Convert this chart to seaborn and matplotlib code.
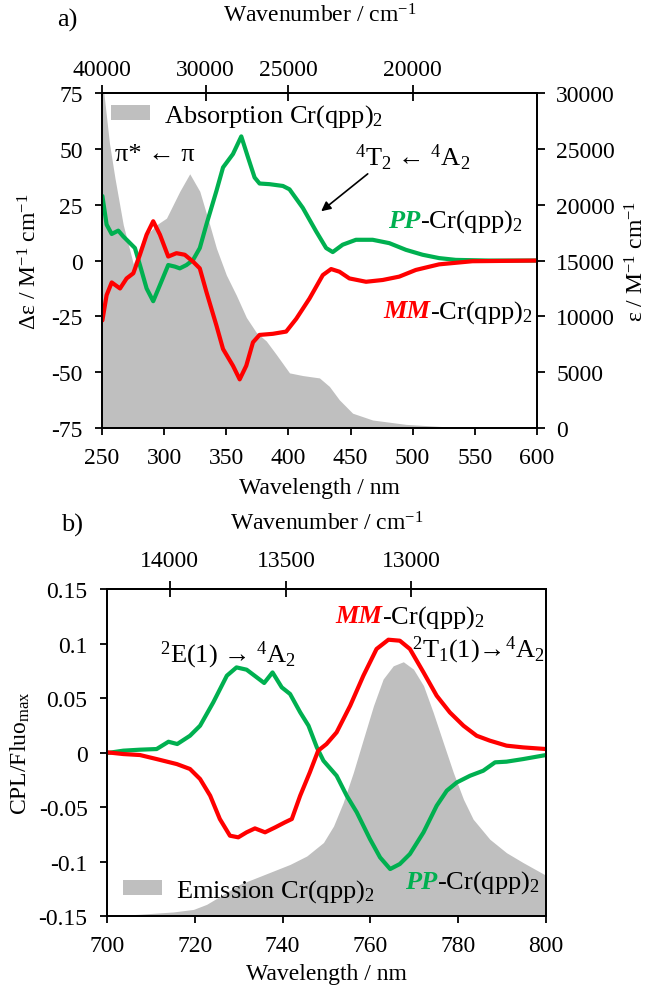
import numpy as np
import matplotlib
matplotlib.use("Agg")
import matplotlib.pyplot as plt
import seaborn as sns
from matplotlib.patches import Patch
from matplotlib.ticker import FuncFormatter
from matplotlib.offsetbox import TextArea, HPacker, AnnotationBbox

# ---- panel a: absorption / CD ----
abs_nm = [250, 252.5, 256, 260.4, 267.1, 275.2, 283.2, 293.9, 301.9, 312.6, 320.6,
          328.7, 336.7, 342.1, 350.1, 358.1, 366.2, 374.2, 382.2, 390.2, 400.9,
          411.6, 425, 433, 441, 451.7, 467.8, 494.6, 534.7, 600]
abs_eps = [31500, 29000, 25500, 22400, 18200, 14700, 17000, 18200, 18800, 21200, 22770,
           21200, 18200, 16100, 13700, 11900, 9900, 8560, 7800, 6600, 4940,
           4700, 4490, 3730, 2530, 1330, 720, 330, 60, 0]

pp_cd_nm = [250.3, 253.7, 257.8, 263.1, 267.1, 271.1, 276.5, 280.5, 285.9, 291.2, 296.6,
            303.3, 308.6, 312.6, 318.0, 323.3, 328.7, 334.0, 342.1, 347.4, 355.4, 362.1,
            367.5, 372.8, 376.8, 384.9, 395.6, 400.9, 411.6, 422.3, 430.4, 435.7, 443.7,
            454.4, 467.8, 481.2, 494.6, 508.0, 521.3, 534.7, 561.5, 600]
pp_cd = [28.9, 16.1, 11.9, 13.4, 10.8, 8.6, 5.6, -2.0, -12.5, -18.2, -11.0,
         -2.0, -2.7, -3.5, -2.0, 0.3, 5.6, 16.1, 31.2, 41.7, 47.7, 55.6,
         46.2, 37.2, 34.5, 34.2, 33.4, 31.9, 23.6, 13.1, 5.6, 3.8, 7.1,
         9.3, 9.3, 7.8, 4.8, 2.6, 1.1, 0.3, 0.0, 0.0]

mm_cd_nm = [250.3, 253.7, 257.8, 264.5, 269.8, 275.2, 280.5, 285.9, 291.2, 296.6, 303.3,
            309.9, 316.6, 323.3, 328.7, 334.0, 342.1, 347.4, 355.4, 360.8, 366.1, 371.5,
            376.8, 387.5, 398.2, 406.3, 417.0, 427.7, 434.4, 441.1, 449.1, 462.5, 475.9,
            489.2, 502.6, 521.3, 548.1, 600]
mm_cd = [-26.8, -15.5, -9.8, -12.5, -8.0, -5.7, 2.6, 11.6, 17.6, 11.6, 1.8,
         3.3, 2.6, -0.5, -3.5, -14.0, -29.1, -39.6, -47.1, -53.2, -47.1, -36.6,
         -33.3, -32.8, -31.8, -26.1, -17.0, -6.5, -3.8, -5.0, -8.0, -9.5, -8.7,
         -7.2, -4.2, -1.7, -0.3, 0.0]

# ---- panel b: emission / CPL ----
em_nm = [700, 707.5, 715.1, 719.7, 722.7, 726.5, 730.3, 734.1, 737.9, 741.7, 745.5,
         749.3, 751.6, 753.8, 756.1, 758.4, 760.7, 762.9, 765.2, 767.5, 769.8, 772.1,
         774.3, 776.6, 778.9, 781.2, 783.4, 787.2, 791.0, 794.8, 800]
em_int = [0, 0.007, 0.016, 0.026, 0.046, 0.085, 0.125, 0.151, 0.177, 0.203, 0.236,
          0.289, 0.354, 0.446, 0.564, 0.696, 0.827, 0.932, 0.984, 1.0, 0.971, 0.906,
          0.801, 0.682, 0.564, 0.459, 0.381, 0.302, 0.249, 0.21, 0.16]

pp_cpl_nm = [700.0, 703.7, 707.5, 711.3, 714.0, 716.0, 718.9, 721.2, 724.2, 727.3, 729.5,
             731.8, 734.1, 735.8, 737.7, 739.8, 741.7, 744.0, 745.9, 747.8, 749.3, 752.3,
             754.6, 756.9, 759.9, 762.2, 764.5, 766.7, 769.0, 772.1, 775.1, 777.4, 779.7,
             782.7, 785.7, 788.4, 791.0, 794.8, 800.0]
pp_cpl = [-0.0005, 0.0017, 0.0026, 0.0032, 0.0099, 0.0078, 0.0154, 0.0246, 0.046, 0.0705, 0.0781,
          0.076, 0.069, 0.0638, 0.0735, 0.0598, 0.0537, 0.0369, 0.0246, 0.0047, -0.0075, -0.0213,
          -0.0396, -0.0549, -0.0794, -0.0962, -0.1069, -0.1023, -0.0931, -0.0732, -0.0488, -0.035, -0.0274,
          -0.0213, -0.0167, -0.009, -0.0084, -0.006, -0.0023]

mm_cpl_nm = [700, 703.7, 707.5, 711.3, 715.9, 718.9, 721.2, 723.5, 725.7, 728.0, 729.9,
             731.8, 733.7, 736.0, 738.3, 740.5, 742.1, 744.0, 746.2, 748.1, 750.0, 752.3,
             755.4, 758.4, 761.4, 764.1, 766.7, 769.0, 772.1, 775.1, 778.1, 781.2, 784.2,
             787.2, 791.0, 794.8, 800.0]
mm_cpl = [0.0002, -0.0014, -0.0023, -0.006, -0.0106, -0.0151, -0.0243, -0.0396, -0.061, -0.0763, -0.0778,
          -0.0732, -0.0696, -0.0732, -0.0687, -0.0641, -0.061, -0.0396, -0.0182, 0.0017, 0.0078, 0.0185,
          0.043, 0.0705, 0.095, 0.1035, 0.1026, 0.095, 0.0735, 0.0521, 0.0368, 0.0246, 0.0154,
          0.0109, 0.0063, 0.0047, 0.0032]

GREEN = "#00B050"
RED = "#FF0000"
GRAY = "#BFBFBF"

sns.set_theme(style="ticks")
plt.rcParams["font.family"] = ["Liberation Serif", "DejaVu Serif", "DejaVu Sans"]
plt.rcParams["mathtext.fontset"] = "custom"
plt.rcParams["mathtext.rm"] = "Liberation Serif"
plt.rcParams["mathtext.it"] = "Liberation Serif:italic"
plt.rcParams["mathtext.bf"] = "Liberation Serif:bold"
plt.rcParams["axes.unicode_minus"] = False
plt.rcParams["axes.edgecolor"] = "black"
plt.rcParams["axes.labelcolor"] = "black"
plt.rcParams["text.color"] = "black"
plt.rcParams["axes.linewidth"] = 1.3
plt.rcParams["xtick.color"] = "black"
plt.rcParams["ytick.color"] = "black"
plt.rcParams["xtick.labelcolor"] = "black"
plt.rcParams["ytick.labelcolor"] = "black"

FS = 17      # ticks and axis labels
FA = 19      # annotations and legends
fig = plt.figure(figsize=(6.51, 9.87), dpi=100)
ax1 = fig.add_axes([0.1567, 0.5653, 0.668, 0.3394])
ax2 = fig.add_axes([0.1644, 0.0709, 0.6743, 0.3313])

fmt = FuncFormatter(lambda v, p: "%g" % v)


def wn(x):
    x = np.asarray(x, dtype=float)
    with np.errstate(divide="ignore", invalid="ignore"):
        return 1e7 / x


def style_axes(ax):
    ax.tick_params(axis="both", labelsize=FS, width=1.3, length=5, direction="out",
                   top=False, right=False)
    ax.tick_params(axis="x", pad=9)
    ax.tick_params(axis="y", pad=9)
    ax.yaxis.set_major_formatter(fmt)
    for s in ax.spines.values():
        s.set_linewidth(1.3)
        s.set_color("black")


def label_pair(ax, x, y, bold, rest, color):
    t1 = TextArea(bold, textprops=dict(color=color, fontsize=FA, fontweight="bold",
                                       fontstyle="italic"))
    t2 = TextArea(rest, textprops=dict(color="black", fontsize=FA))
    box = HPacker(children=[t1, t2], align="baseline", pad=0, sep=0)
    ab = AnnotationBbox(box, (x, y), xycoords="axes fraction", box_alignment=(0, 0.5),
                        frameon=False, pad=0)
    ax.add_artist(ab)


# ---------- panel a ----------
ax1r = ax1.twinx()
ax1r.fill_between(abs_nm, 0, abs_eps, color=GRAY, lw=0)
ax1r.set_ylim(0, 30000)
ax1r.set_yticks(np.arange(0, 30001, 5000))
ax1r.tick_params(labelsize=FS, width=1.3, length=6, direction="out", pad=8)
ax1r.set_ylabel("ε / M$^{-1}$ cm$^{-1}$", fontsize=FS)
ax1r.yaxis.set_label_coords(1.203, 0.5)
ax1.set_zorder(ax1r.get_zorder() + 1)
ax1.patch.set_visible(False)

sns.lineplot(x=pp_cd_nm, y=pp_cd, ax=ax1, color=GREEN, lw=3, sort=False)
sns.lineplot(x=mm_cd_nm, y=mm_cd, ax=ax1, color=RED, lw=3, sort=False)
ax1.set_xlim(250, 600)
ax1.set_ylim(-75, 75)
ax1.set_xticks(np.arange(250, 601, 50))
ax1.set_yticks(np.arange(-75, 76, 25))
style_axes(ax1)
for s in ax1r.spines.values():
    s.set_linewidth(1.3)
ax1.set_xlabel("Wavelength / nm", fontsize=FS)
ax1.xaxis.set_label_coords(0.5, -0.146)
ax1.set_ylabel("Δε / M$^{-1}$ cm$^{-1}$", fontsize=FS)
ax1.yaxis.set_label_coords(-0.14, 0.5)

sec1 = ax1.secondary_xaxis("top", functions=(wn, wn))
sec1.set_xticks([40000, 30000, 25000, 20000])
sec1.xaxis.set_major_formatter(fmt)
sec1.tick_params(labelsize=FS, direction="inout", length=12, width=1.3, pad=3.5)
sec1.set_xlabel("Wavenumber / cm$^{-1}$", fontsize=FS, labelpad=27)

ax1.legend(handles=[Patch(facecolor=GRAY, edgecolor="none", label="Absorption Cr(qpp)$_2$")],
           loc="upper left", frameon=False, fontsize=FA, handlelength=1.45,
           handleheight=0.5, handletextpad=0.55, borderaxespad=0.15, borderpad=0.2)

ax1.text(0.03, 0.818, "π* ← π", transform=ax1.transAxes, fontsize=FA, va="center")
ax1.text(0.582, 0.809, "$^4$T$_2$ ← $^4$A$_2$", transform=ax1.transAxes, fontsize=FA,
         va="center")
ax1.annotate("", xy=(0.499, 0.642), xytext=(0.616, 0.764), xycoords="axes fraction",
             arrowprops=dict(arrowstyle="-|>", color="black", lw=1.2, mutation_scale=14))
label_pair(ax1, 0.657, 0.618, "PP", "-Cr(qpp)$_2$", GREEN)
label_pair(ax1, 0.646, 0.349, "MM", "-Cr(qpp)$_2$", RED)
fig.text(0.104, 0.979, "a)", fontsize=FA, va="center", ha="center")

# ---------- panel b ----------
ax2r = ax2.twinx()
ax2r.fill_between(em_nm, 0, em_int, color=GRAY, lw=0)
ax2r.set_ylim(0, 1.286)
ax2r.tick_params(right=False, labelright=False)
ax2.set_zorder(ax2r.get_zorder() + 1)
ax2.patch.set_visible(False)

sns.lineplot(x=pp_cpl_nm, y=pp_cpl, ax=ax2, color=GREEN, lw=3, sort=False)
sns.lineplot(x=mm_cpl_nm, y=mm_cpl, ax=ax2, color=RED, lw=3, sort=False)
ax2.set_xlim(700, 800)
ax2.set_ylim(-0.15, 0.15)
ax2.set_xticks(np.arange(700, 801, 20))
ax2.set_yticks(np.round(np.arange(-0.15, 0.151, 0.05), 2))
style_axes(ax2)
for s in ax2r.spines.values():
    s.set_linewidth(1.3)
ax2.set_xlabel("Wavelength / nm", fontsize=FS)
ax2.xaxis.set_label_coords(0.5, -0.145)
ax2.set_ylabel("CPL/Fluo$_{\\mathrm{max}}$", fontsize=FS)
ax2.yaxis.set_label_coords(-0.171, 0.5)

sec2 = ax2.secondary_xaxis("top", functions=(wn, wn))
sec2.set_xticks([14000, 13500, 13000])
sec2.xaxis.set_major_formatter(fmt)
sec2.tick_params(labelsize=FS, direction="inout", length=12, width=1.3, pad=7)
sec2.set_xlabel("Wavenumber / cm$^{-1}$", fontsize=FS, labelpad=15)

ax2.legend(handles=[Patch(facecolor=GRAY, edgecolor="none", label="Emission Cr(qpp)$_2$")],
           loc="lower left", frameon=False, fontsize=FA, handlelength=1.45,
           handleheight=0.5, handletextpad=0.55, borderaxespad=0.2, borderpad=0.25,
           bbox_to_anchor=(0.01, 0.0))

ax2.text(0.121, 0.80, "$^2$E(1) → $^4$A$_2$", transform=ax2.transAxes, fontsize=FA,
         va="center")
ax2.text(0.694, 0.817, "$^2$T$_1$(1)→$^4$A$_2$", transform=ax2.transAxes, fontsize=FA,
         va="center")
label_pair(ax2, 0.519, 0.917, "MM", "-Cr(qpp)$_2$", RED)
label_pair(ax2, 0.679, 0.104, "PP", "-Cr(qpp)$_2$", GREEN)
fig.text(0.111, 0.468, "b)", fontsize=FA, va="center", ha="center")

fig.savefig("out.png", dpi=100)
